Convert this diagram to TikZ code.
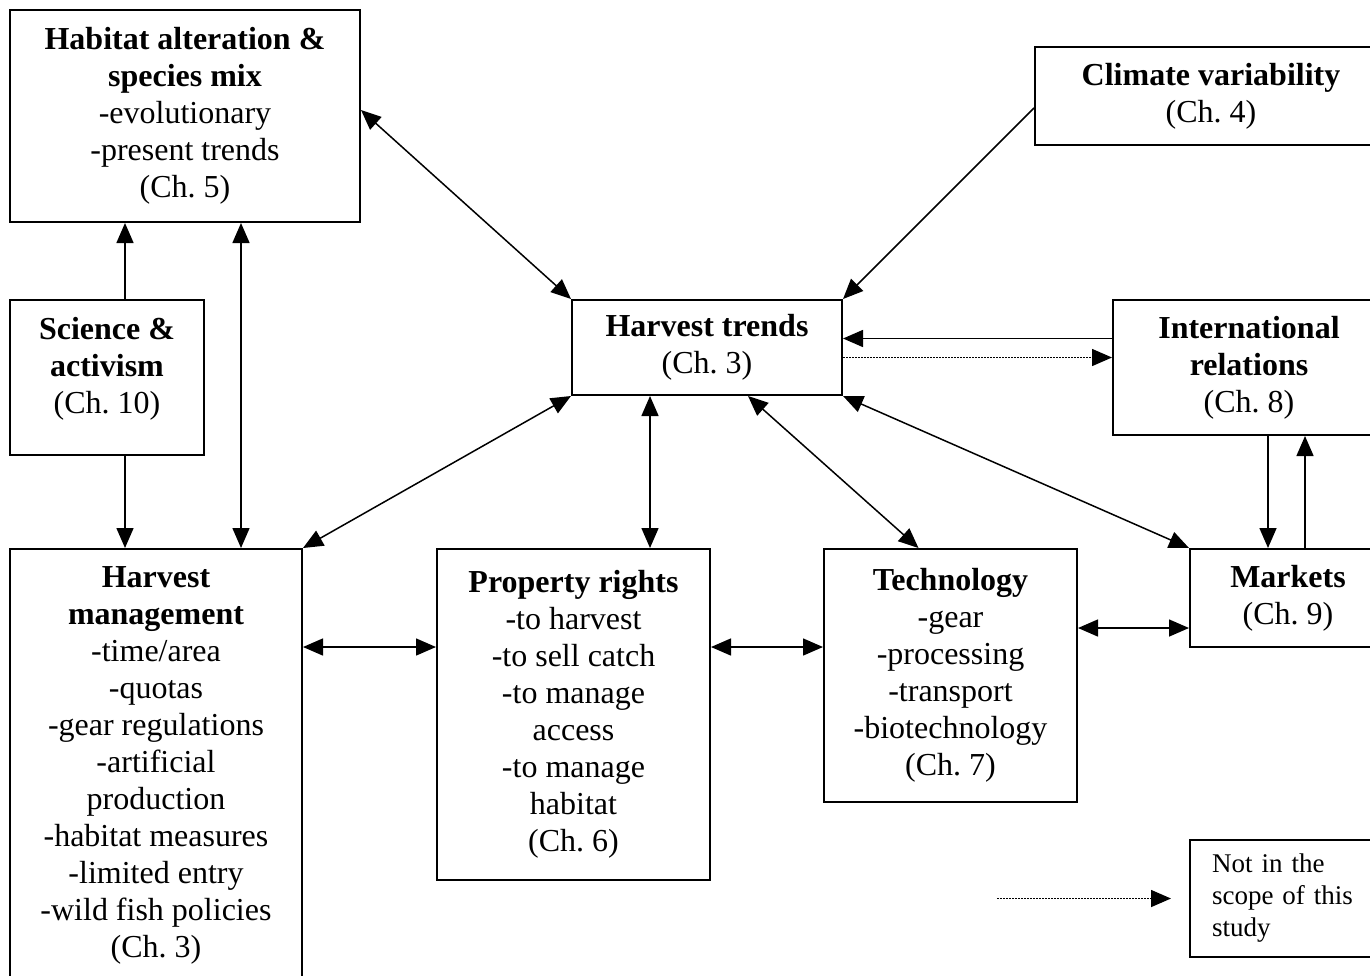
\documentclass[tikz,border=0pt]{standalone}
\usepackage{fontspec}
\setmainfont{Liberation Serif}
\usetikzlibrary{arrows.meta}
\frenchspacing
\begin{document}
\begin{tikzpicture}[x=1pt,y=-1pt,
    box/.style={draw, line width=2pt, align=center, inner sep=0pt, font=\fontsize{32}{37}\selectfont},
    arr/.style={line width=1.5pt, -{Triangle[length=20pt,width=17pt]}},
    darr/.style={line width=1.5pt, {Triangle[length=20pt,width=17pt]}-{Triangle[length=20pt,width=17pt]}},
    notscope/.style={arr, dash pattern=on 1.5pt off 1.5pt}]
    \useasboundingbox (0,0) rectangle (1370,975);
    \clip (0,0) rectangle (1370,975);

    % boxes
    \node[box, minimum width=350pt, minimum height=212pt] (habitat) at (185,116)
        {\textbf{Habitat alteration \&}\\\textbf{species mix}\\-evolutionary\\-present trends\\(Ch. 5)};
    \node[box, minimum width=352pt, minimum height=98pt] (climate) at (1211,96)
        {\textbf{Climate variability}\\(Ch. 4)};
    \node[box, minimum width=194pt, minimum height=155pt, text depth=24pt] (science) at (107,377.5)
        {\textbf{Science \&}\\\textbf{activism}\\(Ch. 10)};
    \node[box, minimum width=270pt, minimum height=95pt] (trends) at (707,347.5)
        {\textbf{Harvest trends}\\(Ch. 3)};
    \node[box, minimum width=272pt, minimum height=135pt] (intl) at (1249,367.5)
        {\textbf{International}\\\textbf{relations}\\(Ch. 8)};
    \node[box, minimum width=292pt, minimum height=433pt] (mgmt) at (156,765.5)
        {\textbf{Harvest}\\\textbf{management}\\-time/area\\-quotas\\-gear regulations\\-artificial\\production\\-habitat measures\\-limited entry\\-wild fish policies\\(Ch. 3)};
    \node[box, minimum width=273pt, minimum height=331pt] (property) at (573.5,714.5)
        {\textbf{Property rights}\\-to harvest\\-to sell catch\\-to manage\\access\\-to manage\\habitat\\(Ch. 6)};
    \node[box, minimum width=253pt, minimum height=253pt] (tech) at (950.5,675.5)
        {\textbf{Technology}\\-gear\\-processing\\-transport\\-biotechnology\\(Ch. 7)};
    \node[box, minimum width=196pt, minimum height=98pt] (markets) at (1288,598)
        {\textbf{Markets}\\(Ch. 9)};
    \node[box, align=left, text width=152pt, inner xsep=22pt, minimum height=117pt,
        font=\fontsize{27}{32}\selectfont] (legend) at (1288,898.5)
        {Not in the\\scope of this\\study};

    % links
    \draw[darr] ([yshift=6pt]habitat.east) -- (trends.north west);
    \draw[arr] ([yshift=-12pt]climate.west) -- (trends.north east);
    \draw[arr] ([xshift=18pt]science.north) -- ([xshift=18pt]science.north |- habitat.south);
    \draw[arr] ([xshift=18pt]science.south) -- ([xshift=18pt]science.south |- mgmt.north);
    \draw[darr] ([xshift=56pt]habitat.south) -- ([xshift=56pt]habitat.south |- mgmt.north);
    \draw[darr] (trends.south west) -- (mgmt.north east);
    \draw[darr] ([xshift=-57pt]trends.south) -- ([xshift=-57pt]trends.south |- property.north);
    \draw[darr] ([xshift=41pt]trends.south) -- ([xshift=-32pt]tech.north);
    \draw[darr] (trends.south east) -- (markets.north west);
    \draw[arr] ([yshift=29pt]intl.west) -- ([yshift=29pt]intl.west -| trends.east);
    \draw[notscope] ([yshift=-10pt]trends.east) -- ([yshift=-10pt]trends.east -| intl.west);
    \draw[arr] ([xshift=19pt]intl.south) -- ([xshift=19pt]intl.south |- markets.north);
    \draw[arr] ([xshift=17pt]markets.north) -- ([xshift=17pt]markets.north |- intl.south);
    \draw[darr] ([yshift=67.5pt]property.west -| mgmt.east) -- ([yshift=67.5pt]property.west);
    \draw[darr] ([yshift=28.5pt]tech.west -| property.east) -- ([yshift=28.5pt]tech.west);
    \draw[darr] ([yshift=-30pt]markets.west -| tech.east) -- ([yshift=-30pt]markets.west);

    % key
    \coordinate (keystart) at (997,898.5);
    \draw[notscope] (keystart) -- ([xshift=-18pt]legend.west);
\end{tikzpicture}
\end{document}
